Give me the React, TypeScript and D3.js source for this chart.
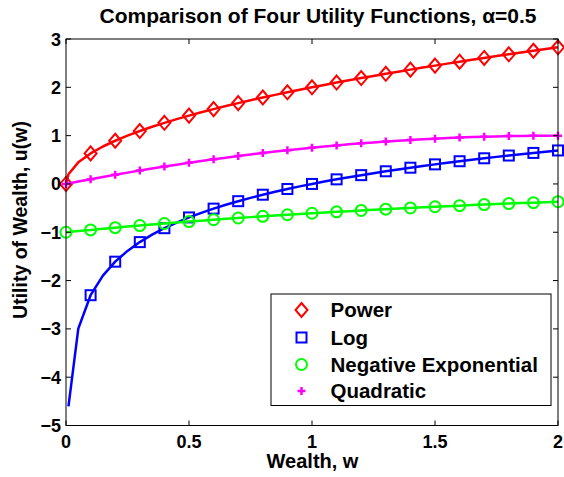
import React from "react";
import * as d3 from "d3";

// Wealth grid used for the curves (markers are drawn every 0.1)
const wealth = [
  0, 0.01, 0.05, 0.1, 0.15, 0.2, 0.25, 0.3, 0.35, 0.4, 0.45, 0.5, 0.55, 0.6, 0.65, 0.7,
  0.75, 0.8, 0.85, 0.9, 0.95, 1.0, 1.05, 1.1, 1.15, 1.2, 1.25, 1.3, 1.35, 1.4, 1.45,
  1.5, 1.55, 1.6, 1.65, 1.7, 1.75, 1.8, 1.85, 1.9, 1.95, 2.0,
];

const powerU = [
  0, 0.2, 0.447, 0.632, 0.775, 0.894, 1.0, 1.095, 1.183, 1.265, 1.342, 1.414, 1.483,
  1.549, 1.612, 1.673, 1.732, 1.789, 1.844, 1.897, 1.949, 2.0, 2.049, 2.098, 2.145,
  2.191, 2.236, 2.28, 2.324, 2.366, 2.408, 2.449, 2.49, 2.53, 2.569, 2.608, 2.646,
  2.683, 2.72, 2.757, 2.793, 2.828,
];

const logU: (number | null)[] = [
  null, -4.605, -2.996, -2.303, -1.897, -1.609, -1.386, -1.204, -1.05, -0.916, -0.799,
  -0.693, -0.598, -0.511, -0.431, -0.357, -0.288, -0.223, -0.163, -0.105, -0.051, 0,
  0.049, 0.095, 0.14, 0.182, 0.223, 0.262, 0.3, 0.336, 0.372, 0.405, 0.438, 0.47,
  0.501, 0.531, 0.56, 0.588, 0.615, 0.642, 0.668, 0.693,
];

const negExpU = [
  -1, -0.995, -0.975, -0.951, -0.928, -0.905, -0.882, -0.861, -0.839, -0.819, -0.799,
  -0.779, -0.76, -0.741, -0.723, -0.705, -0.687, -0.67, -0.654, -0.638, -0.622,
  -0.607, -0.592, -0.577, -0.563, -0.549, -0.535, -0.522, -0.509, -0.497, -0.484,
  -0.472, -0.461, -0.449, -0.438, -0.427, -0.417, -0.407, -0.397, -0.387, -0.377,
  -0.368,
];

const quadU = [
  0, 0.01, 0.049, 0.0975, 0.144, 0.19, 0.234, 0.2775, 0.319, 0.36, 0.399, 0.4375,
  0.474, 0.51, 0.544, 0.5775, 0.609, 0.64, 0.669, 0.6975, 0.724, 0.75, 0.774, 0.7975,
  0.819, 0.84, 0.859, 0.8775, 0.894, 0.91, 0.924, 0.9375, 0.949, 0.96, 0.969, 0.9775,
  0.984, 0.99, 0.994, 0.9975, 0.999, 1.0,
];

const seriesNames = ["Power", "Log", "Negative Exponential", "Quadratic"];
const seriesColors = ["#ff0000", "#0000ff", "#00ff00", "#ff00ff"];
const seriesMarkers = ["diamond", "square", "circle", "plus"];

const xTicks = [0, 0.5, 1, 1.5, 2];
const xTickLabels = ["0", "0.5", "1", "1.5", "2"];
const yTicks = [3, 2, 1, 0, -1, -2, -3, -4, -5];
const yTickLabels = ["3", "2", "1", "0", "\u22121", "\u22122", "\u22123", "\u22124", "\u22125"];

const W = 564;
const H = 477;
const left = 66;
const right = 558;
const top = 39;
const bottom = 425.5;
const FONT = "'Liberation Sans', Arial, Helvetica, sans-serif";

function Label(props: {
  x: number;
  y: number;
  size: number;
  anchor?: string;
  rotate?: number;
  children: React.ReactNode;
}) {
  const { x, y, size, anchor = "start", rotate = 0, children } = props;
  return (
    <text
      transform={`translate(${x},${y}) rotate(${rotate})`}
      fontFamily={FONT}
      fontWeight="bold"
      fontSize={size}
      textAnchor={anchor}
      fill="#000"
    >
      {children}
    </text>
  );
}

function Marker(props: { kind: string; x: number; y: number; color: string }) {
  const { kind, x, y, color } = props;
  const sw = 2;
  if (kind === "diamond") {
    const hw = 6, hh = 7;
    return (
      <path
        d={`M${x},${y - hh}L${x + hw},${y}L${x},${y + hh}L${x - hw},${y}Z`}
        fill="none"
        stroke={color}
        strokeWidth={sw}
      />
    );
  }
  if (kind === "square") {
    const s = 5;
    return (
      <rect x={x - s} y={y - s} width={2 * s} height={2 * s} fill="none" stroke={color} strokeWidth={sw} />
    );
  }
  if (kind === "circle") {
    return <circle cx={x} cy={y} r={5.5} fill="none" stroke={color} strokeWidth={sw} />;
  }
  const p = 4;
  return (
    <path
      d={`M${x - p},${y}L${x + p},${y}M${x},${y - p}L${x},${y + p}`}
      stroke={color}
      strokeWidth={2.5}
      fill="none"
    />
  );
}

export default function App() {
  const x = d3.scaleLinear().domain([0, 2]).range([left, right]);
  const y = d3.scaleLinear().domain([-5, 3]).range([bottom, top]);

  const allSeries = [powerU, logU, negExpU, quadU];
  const idx = wealth.map((_, i) => i);
  const markerIdx = idx.filter((i) => Math.round(wealth[i] * 100) % 10 === 0);

  const paths = allSeries.map((s) =>
    d3
      .line<number>()
      .defined((i) => s[i] !== null)
      .x((i) => x(wealth[i]))
      .y((i) => y(s[i] as number))(idx) || ""
  );

  const tickLen = 5;
  const legend = { x0: 271, y0: 294, x1: 551, y1: 405.5 };
  const legendRows = [310, 337.5, 364.5, 391];

  return (
    <svg
      width={W}
      height={H}
      style={{ position: "absolute", left: 0, top: 0, background: "#fff" }}
    >
      <rect x={0} y={0} width={W} height={H} fill="#fff" />

      {/* curves */}
      {allSeries.map((s, k) => (
        <g key={seriesNames[k]}>
          <path d={paths[k]} fill="none" stroke={seriesColors[k]} strokeWidth={2.5} strokeLinejoin="round" />
          {markerIdx
            .filter((i) => s[i] !== null)
            .map((i) => (
              <Marker
                key={i}
                kind={seriesMarkers[k]}
                x={x(wealth[i])}
                y={y(s[i] as number)}
                color={seriesColors[k]}
              />
            ))}
        </g>
      ))}

      {/* axes box */}
      <rect x={left} y={top} width={right - left} height={bottom - top} fill="none" stroke="#000" strokeWidth={1} />

      {/* x ticks */}
      {xTicks.map((t, i) => (
        <g key={`xt${t}`}>
          <line x1={x(t)} x2={x(t)} y1={bottom} y2={bottom - tickLen} stroke="#000" />
          <line x1={x(t)} x2={x(t)} y1={top} y2={top + tickLen} stroke="#000" />
          <Label x={x(t)} y={448} size={18} anchor="middle">
            {xTickLabels[i]}
          </Label>
        </g>
      ))}

      {/* y ticks */}
      {yTicks.map((t, i) => (
        <g key={`yt${t}`}>
          <line x1={left} x2={left + tickLen} y1={y(t)} y2={y(t)} stroke="#000" />
          <line x1={right} x2={right - tickLen} y1={y(t)} y2={y(t)} stroke="#000" />
          <Label x={61} y={y(t) + 6.5} size={18} anchor="end">
            {yTickLabels[i]}
          </Label>
        </g>
      ))}

      {/* title and axis labels */}
      <Label x={318} y={23} size={21} anchor="middle">
        Comparison of Four Utility Functions, α=0.5
      </Label>
      <Label x={312.5} y={468} size={20} anchor="middle">
        Wealth, w
      </Label>
      <Label x={27} y={220} size={19.5} anchor="middle" rotate={-90}>
        Utility of Wealth, u(w)
      </Label>

      {/* legend */}
      <rect
        x={legend.x0}
        y={legend.y0}
        width={legend.x1 - legend.x0}
        height={legend.y1 - legend.y0}
        fill="#fff"
        stroke="#000"
        strokeWidth={1}
      />
      {seriesNames.map((name, k) => (
        <g key={`lg${name}`}>
          <Marker kind={seriesMarkers[k]} x={301.5} y={legendRows[k]} color={seriesColors[k]} />
          <Label x={330.5} y={legendRows[k] + 7} size={20.5}>
            {name}
          </Label>
        </g>
      ))}
    </svg>
  );
}
